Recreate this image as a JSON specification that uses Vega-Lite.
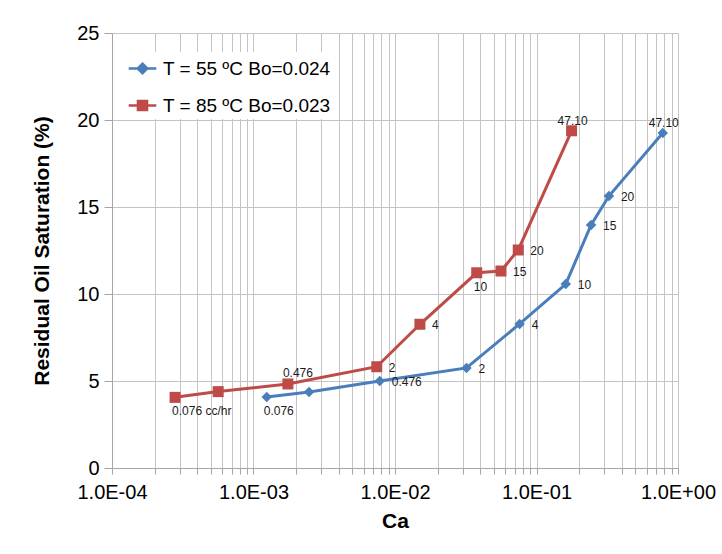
{
  "$schema": "https://vega.github.io/schema/vega-lite/v6.json",
  "width": 566,
  "height": 435,
  "autosize": {"type": "none"},
  "padding": {"left": 112, "top": 33, "right": 44, "bottom": 86},
  "background": "white",
  "config": {
    "font": "Liberation Sans",
    "view": {"stroke": null},
    "axis": {"labelFont": "Liberation Sans", "titleFont": "Liberation Sans", "labelColor": "#000", "titleColor": "#000", "gridColor": "#c4c4c4", "gridWidth": 1, "domainColor": "#a6a6a6", "tickColor": "#a6a6a6", "gridOpacity": 1}
  },
  "data": {
    "values": [
      {"series": "T = 55 ºC Bo=0.024", "Ca": 0.00124, "Sor": 4.08, "label": "0.076"},
      {"series": "T = 55 ºC Bo=0.024", "Ca": 0.00247, "Sor": 4.37, "label": ""},
      {"series": "T = 55 ºC Bo=0.024", "Ca": 0.0078, "Sor": 5.0, "label": "0.476"},
      {"series": "T = 55 ºC Bo=0.024", "Ca": 0.032, "Sor": 5.75, "label": "2"},
      {"series": "T = 55 ºC Bo=0.024", "Ca": 0.076, "Sor": 8.28, "label": "4"},
      {"series": "T = 55 ºC Bo=0.024", "Ca": 0.161, "Sor": 10.57, "label": "10"},
      {"series": "T = 55 ºC Bo=0.024", "Ca": 0.243, "Sor": 13.97, "label": "15"},
      {"series": "T = 55 ºC Bo=0.024", "Ca": 0.325, "Sor": 15.63, "label": "20"},
      {"series": "T = 55 ºC Bo=0.024", "Ca": 0.78, "Sor": 19.25, "label": "47.10"},
      {"series": "T = 85 ºC Bo=0.023", "Ca": 0.000279, "Sor": 4.06, "label": "0.076 cc/hr"},
      {"series": "T = 85 ºC Bo=0.023", "Ca": 0.000563, "Sor": 4.39, "label": ""},
      {"series": "T = 85 ºC Bo=0.023", "Ca": 0.00175, "Sor": 4.83, "label": "0.476"},
      {"series": "T = 85 ºC Bo=0.023", "Ca": 0.00743, "Sor": 5.82, "label": "2"},
      {"series": "T = 85 ºC Bo=0.023", "Ca": 0.015, "Sor": 8.26, "label": "4"},
      {"series": "T = 85 ºC Bo=0.023", "Ca": 0.0378, "Sor": 11.22, "label": "10"},
      {"series": "T = 85 ºC Bo=0.023", "Ca": 0.0561, "Sor": 11.32, "label": "15"},
      {"series": "T = 85 ºC Bo=0.023", "Ca": 0.0743, "Sor": 12.53, "label": "20"},
      {"series": "T = 85 ºC Bo=0.023", "Ca": 0.177, "Sor": 19.38, "label": "47.10"}
    ]
  },
  "encoding": {
    "x": {
      "field": "Ca", "type": "quantitative",
      "scale": {"type": "log", "domain": [0.0001, 1], "nice": false},
      "axis": {
        "title": "Ca", "titleFontSize": 21, "titleFontWeight": "bold", "titlePadding": 8,
        "labelFontSize": 20, "labelPadding": 8, "tickSize": 6, "labelOverlap": false, "labelBound": false, "labelFlush": false,
        "values": [0.0001, 0.0002, 0.0003, 0.0004, 0.0005, 0.0006, 0.0007, 0.0008, 0.0009, 0.001, 0.002, 0.003, 0.004, 0.005, 0.006, 0.007, 0.008, 0.009, 0.01, 0.02, 0.03, 0.04, 0.05, 0.06, 0.07, 0.08, 0.09, 0.1, 0.2, 0.3, 0.4, 0.5, 0.6, 0.7, 0.8, 0.9, 1],
        "labelExpr": "abs(log(datum.value)/LN10 - round(log(datum.value)/LN10)) < 1e-6 ? ('1.0E' + (round(log(datum.value)/LN10) < 0 ? '-' : '+') + '0' + abs(round(log(datum.value)/LN10))) : ''",
        "encode": {"ticks": {"update": {"opacity": {"signal": "abs(log(datum.value)/LN10 - round(log(datum.value)/LN10)) < 1e-6 ? 1 : 0"}}}}
      }
    },
    "y": {
      "field": "Sor", "type": "quantitative",
      "scale": {"domain": [0, 25], "nice": false},
      "axis": {
        "title": "Residual Oil Saturation (%)", "titleFontSize": 21, "titleFontWeight": "bold", "titlePadding": 24,
        "labelFontSize": 20, "labelPadding": 5, "tickSize": 8, "values": [0, 5, 10, 15, 20, 25]
      }
    }
  },
  "layer": [
    {
      "mark": {"type": "line", "strokeWidth": 3},
      "encoding": {
        "color": {
          "field": "series", "type": "nominal",
          "scale": {"domain": ["T = 55 ºC Bo=0.024", "T = 85 ºC Bo=0.023"], "range": ["#4a7ebb", "#be4b48"]},
          "legend": {
            "orient": "none", "legendX": 14, "legendY": 19, "title": null,
            "fillColor": "white", "padding": 3,
            "labelFont": "Liberation Sans", "labelFontSize": 19, "labelColor": "#000", "labelLimit": 400, "labelOffset": 7,
            "rowPadding": 13, "symbolSize": 576, "symbolStrokeWidth": 2.5,
            "encode": {
              "symbols": {
                "update": {
                  "shape": {"signal": "datum.value === 'T = 55 ºC Bo=0.024' ? 'M-1.15,0H1.15M0,-0.4L0.4,0L0,0.4L-0.4,0Z' : 'M-1.15,0H1.15M-0.38,-0.38H0.38V0.38H-0.38Z'"},
                  "fill": {"signal": "datum.value === 'T = 55 ºC Bo=0.024' ? '#4a7ebb' : '#be4b48'"},
                  "stroke": {"signal": "datum.value === 'T = 55 ºC Bo=0.024' ? '#4a7ebb' : '#be4b48'"},
                  "strokeWidth": {"value": 2.5},
                  "opacity": {"value": 1},
                  "fillOpacity": {"value": 1}
                }
              }
            }
          }
        }
      }
    },
    {
      "transform": [{"filter": "datum.series === 'T = 55 ºC Bo=0.024'"}],
      "mark": {"type": "point", "shape": "diamond", "filled": true, "size": 110, "opacity": 1, "color": "#4a7ebb"}
    },
    {
      "transform": [{"filter": "datum.series === 'T = 85 ºC Bo=0.023'"}],
      "mark": {"type": "point", "shape": "square", "filled": true, "size": 121, "opacity": 1, "color": "#be4b48"}
    },
    {
      "transform": [{"filter": "datum.label !== '' && datum.label !== '47.10' && datum.label !== '0.076' && datum.label !== '0.076 cc/hr' && !(datum.series === 'T = 85 ºC Bo=0.023' && (datum.label === '10' || datum.label === '0.476'))"}],
      "mark": {"type": "text", "align": "left", "baseline": "middle", "dx": 12, "dy": 1, "fontSize": 12, "color": "#1a1a1a"},
      "encoding": {"text": {"field": "label"}}
    },
    {
      "transform": [{"filter": "datum.label === '0.076' || datum.label === '0.076 cc/hr' || (datum.series === 'T = 85 ºC Bo=0.023' && datum.label === '10')"}],
      "mark": {"type": "text", "align": "left", "baseline": "middle", "dx": -3, "dy": 14, "fontSize": 12, "color": "#1a1a1a"},
      "encoding": {"text": {"field": "label"}}
    },
    {
      "transform": [{"filter": "datum.label === '47.10'"}],
      "mark": {"type": "text", "align": "center", "baseline": "middle", "dx": 1, "dy": -10, "fontSize": 12, "color": "#1a1a1a"},
      "encoding": {"text": {"field": "label"}}
    },
    {
      "transform": [{"filter": "datum.series === 'T = 85 ºC Bo=0.023' && datum.label === '0.476'"}],
      "mark": {"type": "text", "align": "left", "baseline": "middle", "dx": -5, "dy": -11, "fontSize": 12, "color": "#1a1a1a"},
      "encoding": {"text": {"field": "label"}}
    }
  ]
}
